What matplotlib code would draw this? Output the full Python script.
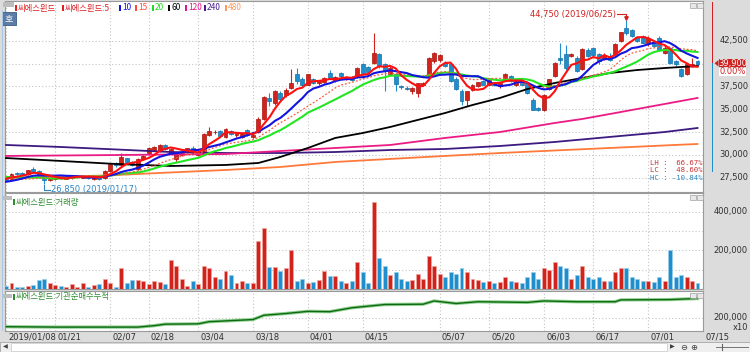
import numpy as np
import pandas as pd
import matplotlib
matplotlib.use('Agg')
import matplotlib.pyplot as plt
from matplotlib.patches import Rectangle, Polygon
from matplotlib.transforms import blended_transform_factory

KR = ['Noto Sans CJK KR', 'DejaVu Sans']

# daily candles, 2019/01/08 .. 2019/07/12
opens = [27300, 27250, 28000, 28000, 27850, 28400, 28250, 27650, 27200, 27300,
         27600, 27400, 27450, 27600, 27500, 27700, 27300, 27550, 27450, 28200,
         29100, 28900, 29600, 29200, 28400, 29500, 30150, 30500, 30450, 31050,
         30300, 29550, 30000, 30300, 30800, 29950, 30050, 32200, 32450, 32600,
         31950, 32600, 32150, 31900, 32700, 31900, 32500, 33950, 36250, 35650,
         36800, 36500, 37300, 38850, 38300, 37700, 38300, 37900, 37950, 38950,
         38150, 38950, 38300, 38450, 38500, 39950, 39600, 40050, 41000, 39950,
         38850, 38850, 37500, 37300, 36950, 36750, 37700, 38600, 40300, 40400,
         40050, 39950, 38300, 36950, 36000, 37150, 37500, 38050, 37700, 37800,
         37500, 38250, 38600, 37650, 38050, 37850, 36050, 35100, 34950, 37250,
         38600, 40650, 41050, 40850, 40600, 39400, 41500, 41650, 41000, 40550,
         40800, 41050, 42500, 43850, 43700, 42900, 43000, 42300, 42200, 42800,
         41200, 41700, 40300, 39400, 38900, 39850, 40300]
highs = [27450, 28050, 28150, 28100, 28350, 28650, 28350, 27750, 27450, 27650,
         27700, 27650, 27800, 27800, 27800, 27750, 27600, 27650, 28350, 29050,
         29250, 30200, 29700, 29300, 29600, 30000, 30900, 31000, 31200, 31150,
         30800, 30300, 30350, 30800, 30950, 30200, 32400, 33100, 32700, 32700,
         32900, 32700, 32450, 32400, 32800, 32300, 34100, 36400, 36800, 37100,
         37000, 37300, 39400, 39550, 38500, 38900, 38400, 38200, 38500, 39300,
         38600, 39100, 38600, 38600, 39600, 40100, 39700, 43300, 41200, 40100,
         39700, 39000, 37650, 37500, 37400, 37900, 38000, 40700, 41300, 41000,
         40300, 40100, 38500, 37200, 37000, 37800, 38000, 38200, 38400, 37900,
         37900, 38950, 38700, 38300, 38200, 38000, 36200, 35250, 36700, 38350,
         40200, 42300, 42000, 41200, 40800, 41700, 41700, 41800, 41100, 41100,
         41200, 42300, 43500, 44750, 43800, 43000, 43100, 43000, 42400, 43050,
         41900, 41800, 40400, 39500, 40100, 40600, 40400]
lows = [27100, 27150, 27800, 27850, 27800, 28050, 27650, 26850, 27100, 27250,
        27350, 27300, 27400, 27500, 27450, 27400, 27200, 27200, 27400, 28100,
        28700, 28800, 29150, 28800, 28300, 29400, 30050, 30400, 30350, 30550,
        30100, 29200, 29900, 30200, 30050, 29850, 30000, 32100, 32300, 32000,
        31850, 32150, 32000, 31800, 32100, 31800, 32400, 33800, 35400, 35500,
        35900, 36300, 37200, 37800, 37500, 37600, 37800, 37700, 37850, 38300,
        38000, 38500, 38200, 38100, 38400, 38900, 38900, 39900, 39500, 36950,
        38700, 36950, 37200, 37100, 36700, 36350, 37500, 38500, 40100, 40200,
        39600, 38000, 37100, 35500, 35300, 37000, 37400, 37600, 37600, 37500,
        37300, 38200, 37950, 37500, 37600, 36650, 34900, 34800, 34850, 37100,
        38500, 39900, 39300, 40700, 39100, 39300, 40700, 40800, 39900, 40400,
        40300, 40900, 42400, 43100, 42900, 42400, 42200, 41900, 41800, 41400,
        41000, 39900, 39700, 38500, 38700, 39600, 39700]
closes = [27200, 27950, 27900, 27950, 28300, 28100, 27700, 27200, 27350, 27550,
          27450, 27550, 27700, 27700, 27650, 27450, 27500, 27350, 28250, 28950,
          28850, 29750, 29250, 28850, 29500, 29900, 30800, 30850, 31100, 30650,
          30650, 30200, 30150, 30700, 30150, 30050, 32300, 32600, 32550, 32100,
          32800, 32250, 32350, 32300, 32200, 32200, 33950, 36300, 35900, 36950,
          36100, 37100, 37850, 38050, 37700, 38800, 37900, 38050, 38400, 38400,
          38500, 38600, 38500, 38200, 39500, 39000, 39100, 41150, 39750, 39200,
          39500, 37750, 37400, 37250, 37300, 37850, 37900, 40600, 41150, 40900,
          39750, 38100, 37200, 35850, 36950, 37700, 37950, 37700, 38250, 37700,
          37850, 38850, 38050, 38250, 37700, 36750, 34950, 34950, 36600, 38300,
          40050, 40400, 39500, 41000, 39200, 41600, 40850, 40900, 40300, 40950,
          40400, 42150, 43400, 43300, 43000, 42500, 42300, 42750, 41900, 41500,
          41700, 40050, 39900, 38600, 39950, 39900, 39900]
volumes = [14000, 31000, 12000, 12000, 17000, 21000, 48000, 53000, 29000, 22000,
           17000, 9000, 26000, 9000, 29000, 12000, 22000, 26000, 53000, 29000,
           12000, 110000, 29000, 47000, 48000, 40000, 26000, 43000, 36000, 26000,
           152000, 117000, 53000, 17000, 40000, 26000, 121000, 110000, 62000, 53000,
           95000, 74000, 33000, 43000, 33000, 33000, 247000, 316000, 114000, 114000,
           91000, 110000, 200000, 43000, 53000, 33000, 36000, 47000, 95000, 69000,
           69000, 43000, 29000, 43000, 141000, 86000, 33000, 451000, 160000, 120000,
           70000, 90000, 50000, 40000, 45000, 80000, 50000, 170000, 120000, 80000,
           60000, 90000, 80000, 110000, 90000, 50000, 45000, 35000, 40000, 30000,
           35000, 60000, 40000, 35000, 30000, 60000, 90000, 50000, 110000, 100000,
           140000, 120000, 110000, 50000, 70000, 120000, 60000, 50000, 60000, 40000,
           40000, 90000, 110000, 110000, 60000, 50000, 40000, 40000, 35000, 60000,
           40000, 200000, 60000, 70000, 60000, 40000, 30000]
# closes before 01/08, only to warm up the short moving averages
pre_close = [28600, 28400, 28300, 28100, 28200, 27900, 28000, 28100, 27900, 27700,
             27000, 26700, 26500, 26600, 26800, 27200, 27500, 27400, 27600]

# long moving averages at a few bars
ma60_idx = [0, 10, 20, 30, 40, 46, 50, 55, 60, 65, 70, 75, 80, 85, 90, 95, 100, 105, 110, 115, 120, 126]
ma60_val = [29650, 29330, 29000, 28780, 28890, 29110, 29770, 30750, 31850, 32390, 33050,
            33820, 34580, 35460, 36230, 37210, 37870, 38420, 38960, 39290, 39510, 39730]
ma120_idx = [0, 20, 40, 50, 60, 70, 80, 90, 100, 105, 110, 115, 120, 126]
ma120_val = [29880, 29980, 30090, 30420, 30750, 31080, 31850, 32500, 33490, 33930, 34470, 35020, 35570, 36230]
ma240_idx = [0, 10, 20, 30, 40, 50, 60, 70, 80, 90, 100, 110, 120, 126]
ma240_val = [31080, 30860, 30590, 30310, 30200, 30200, 30310, 30530, 30640, 30970, 31410, 31960, 32500, 32940]
ma480_idx = [0, 10, 20, 30, 40, 50, 60, 70, 80, 90, 100, 110, 120, 126]
ma480_val = [27470, 27580, 27790, 28070, 28340, 28670, 29220, 29550, 29880, 30200, 30480, 30750, 31030, 31190]

# institutional net buying, cumulative (x10)
inst_idx = [0, 9, 24, 27, 29, 35, 37, 45, 47, 51, 55, 59, 63, 69, 76, 78, 82, 86, 95, 98, 104, 111, 112, 121, 126]
inst_val = [66000, 60000, 60000, 82000, 105000, 110000, 143000, 176000, 242000, 269000,
            302000, 297000, 357000, 407000, 412000, 462000, 423000, 450000, 440000, 462000,
            450000, 450000, 478000, 483000, 500000]

tick_idx = [0, 9, 19, 26, 35, 45, 55, 65, 79, 88, 98, 107, 117, 127]
tick_lab = ['2019/01/08', '01/21', '02/07', '02/18', '03/04', '03/18', '04/01',
            '04/15', '05/07', '05/20', '06/03', '06/17', '07/01', '07/15']
price_ticks = [27500, 30000, 32500, 35000, 37500, 40000, 42500]
vol_ticks = [100000, 200000, 300000, 400000]

RED = '#d2221c'
BLUE = '#1e8fcc'

fig = plt.figure(figsize=(7.5, 3.52), dpi=100)
fig.patch.set_facecolor('#dcdcdc')


def fx(x):
    return x / 750


def fy(y):
    return 1 - y / 352


def rect(x0, y0, x1, y1, **kw):
    fig.add_artist(Rectangle((fx(x0), fy(y1)), (x1 - x0) / 750, (y1 - y0) / 352,
                             transform=fig.transFigure, **kw))


def panel(y0, y1):
    ax = fig.add_axes([fx(5), fy(y1), fx(703) - fx(5), (y1 - y0) / 352])
    ax.set_facecolor('white')
    ax.set_xlim(-0.18, 126.96)
    ax.set_xticks(tick_idx)
    ax.tick_params(length=0, labelbottom=False, labelleft=False)
    ax.grid(True, axis='x', color='#c4c4c4', lw=0.8, ls=(0, (1, 2)))
    for s in ax.spines.values():
        s.set_color('#9a9a9a')
        s.set_linewidth(0.8)
    return ax


x = np.arange(len(closes))
o = np.array(opens)
c = np.array(closes)
up = c >= o
cols = np.where(up, RED, BLUE)
edges = np.where(up, '#a81410', '#1670a8')

# ---- price panel ----
ax = panel(1, 192)
ax.set_ylim(25930, 46850)
ax.set_yticks(price_ticks)
ax.grid(True, axis='y', color='#c4c4c4', lw=0.8, ls=(0, (1, 2)))

ax.vlines(x, lows, highs, colors=cols, lw=0.8, zorder=2)
ax.bar(x, np.maximum(np.abs(c - o), 90), bottom=np.minimum(o, c), width=0.72,
       color=cols, edgecolor=edges, lw=0.5, zorder=3)

ax.plot(ma480_idx, ma480_val, color='#ff7a3a', lw=1.3, zorder=4)
ax.plot(ma240_idx, ma240_val, color='#3c1a80', lw=1.3, zorder=4)
ax.plot(ma120_idx, ma120_val, color='#ec1a84', lw=1.3, zorder=4)
ax.plot(ma60_idx, ma60_val, color='black', lw=1.3, zorder=4)
allc = pd.Series(pre_close + closes, dtype=float)
n0 = len(pre_close)
for win, color, lw, ls in [(20, '#22e622', 1.5, '-'), (15, '#ff5a3c', 0.9, (0, (1.5, 1.5))),
                           (10, '#1414e0', 1.5, '-'), (5, '#ff1010', 1.5, '-')]:
    ma = allc.rolling(win).mean().iloc[n0:].to_numpy()
    ax.plot(x, ma, color=color, lw=lw, ls=ls, zorder=5)

# high / low marks
ax.plot([111.3, 113, 113], [45420, 45420, 44900], color='#d02020', lw=0.8, zorder=6)
ax.plot([113], [44950], marker='v', ms=2.5, color='#d02020', zorder=6)
ax.text(111.1, 45420, '44,750 (2019/06/25)', color='#d02020', fontsize=6,
        ha='right', va='center', zorder=6)
ax.plot([7, 7, 8.0], [26750, 26200, 26200], color='#2a84c4', lw=0.8, zorder=6)
ax.text(8.2, 26200, '26,850 (2019/01/17)', color='#2a84c4', fontsize=6,
        ha='left', va='center', zorder=6)

trans = blended_transform_factory(fig.transFigure, ax.transData)
for p in price_ticks:
    if p != 40000:
        ax.text(fx(748), p, f'{p:,}', transform=trans, ha='right', va='center',
                fontsize=6, color='#303030')

# ---- volume panel ----
ax2 = panel(193, 289)
ax2.set_ylim(0, 497000)
ax2.set_yticks(vol_ticks)
ax2.grid(True, axis='y', color='#c4c4c4', lw=0.8, ls=(0, (1, 2)))
ax2.bar(x, volumes, width=0.72, color=cols,
        edgecolor=np.where(up, '#f0a8a0', '#9cd0ec'), lw=0.5, zorder=3)
trans2 = blended_transform_factory(fig.transFigure, ax2.transData)
for v in [200000, 400000]:
    ax2.text(fx(748), v, f'{v:,}', transform=trans2, ha='right', va='center',
             fontsize=6, color='#303030')

# ---- institutional panel ----
ax3 = panel(291, 331)
ax3.set_ylim(0, 615000)
ax3.set_yticks([200000])
ax3.grid(True, axis='y', color='#c4c4c4', lw=0.8, ls=(0, (1, 2)))
ax3.plot(inst_idx, inst_val, color='#8fd08f', lw=2.4, zorder=3)
ax3.plot(inst_idx, inst_val, color='#0e6a12', lw=1.0, zorder=4)
trans3 = blended_transform_factory(fig.transFigure, ax3.transData)
ax3.text(fx(748), 200000, '200,000', transform=trans3, ha='right', va='center',
         fontsize=6, color='#303030')
fig.text(fx(748), fy(327.5), 'x10', ha='right', va='center', fontsize=6, color='#303030')

# ---- date row ----
for i, lab in zip(tick_idx, tick_lab):
    xp = 6 + 5.49 * i + 2
    fig.text(fx(xp), fy(337), lab, ha='left', va='center', fontsize=6, color='#303030')

# ---- legends and widgets ----
rect(3, 2, 14, 7, facecolor='#bdbdbd', edgecolor='none')
rect(2, 12, 16, 25, facecolor='#5b7ca6', edgecolor='#3c5c86', lw=0.6)
fig.text(fx(9), fy(18.5), '호', family=KR, fontsize=6.5, color='white', ha='center', va='center')
legend = [(15, '씨에스윈드', '#e02020'), (62, '씨에스윈드:5', '#e02020'), (119, '10', '#1414e0'),
          (135, '15', '#ff4a3a'), (152, '20', '#22dd22'), (168, '60', 'black'),
          (185, '120', '#e4148a'), (204, '240', '#4a2090'), (225, '480', '#ff9a5a')]
for xm, lab, colr in legend:
    rect(xm, 5, xm + 2, 11, facecolor=colr, edgecolor='none')
    fig.text(fx(xm + 3), fy(8), lab, family=KR, fontsize=6, color=colr, ha='left', va='center')

rect(3, 196, 12, 200, facecolor='#bdbdbd', edgecolor='none')
rect(13, 199, 15, 205, facecolor='#2e8b2e', edgecolor='none')
fig.text(fx(16), fy(202), '씨에스윈드:거래량', family=KR, fontsize=6, color='#2e8b2e', va='center')
rect(3, 294, 12, 298, facecolor='#bdbdbd', edgecolor='none')
rect(13, 294, 15, 300, facecolor='#2e8b2e', edgecolor='none')
fig.text(fx(16), fy(297), '씨에스윈드:기관순매수누적', family=KR, fontsize=6, color='#2e8b2e', va='center')

for yy in [3, 195, 293]:
    rect(690, yy, 695.5, yy + 5, facecolor='#e8e8e8', edgecolor='#a0a0a0', lw=0.5)
    rect(697, yy, 702.5, yy + 5, facecolor='#e8e8e8', edgecolor='#a0a0a0', lw=0.5)

fig.text(fx(702), fy(163), 'LH :  66.67%', family='DejaVu Sans Mono', fontsize=5.2,
         color='#c83030', ha='right', va='center')
fig.text(fx(702), fy(170.5), 'LC :  48.60%', family='DejaVu Sans Mono', fontsize=5.2,
         color='#c83030', ha='right', va='center')
fig.text(fx(702), fy(178), 'HC : -10.84%', family='DejaVu Sans Mono', fontsize=5.2,
         color='#2a84c4', ha='right', va='center')

# current price marker on the right scale
rect(711.5, 2, 713, 63, facecolor='#d02020', edgecolor='none')
rect(711.5, 63, 713, 172, facecolor='#1e8fcc', edgecolor='none')
fig.add_artist(Polygon([(fx(714.5), fy(63.3)), (fx(718.5), fy(60)), (fx(718.5), fy(66.6))],
                       closed=True, transform=fig.transFigure, facecolor='#d02020', edgecolor='none'))
rect(719, 59.5, 746, 67, facecolor='#d02020', edgecolor='none')
fig.text(fx(732.5), fy(63.3), '39,900', fontsize=6, color='white', ha='center', va='center')
rect(719, 67.5, 746, 76, facecolor='white', edgecolor='none')
fig.text(fx(732.5), fy(72), '0.00%', fontsize=6, color='#d02020', ha='center', va='center')

rect(2, 10, 3, 331, facecolor='#a9c6e4', edgecolor='none')

# scrollbar
rect(0, 342, 750, 352, facecolor='#efefef', edgecolor='#a8a8a8', lw=0.6)
rect(11, 343, 667, 351, facecolor='white', edgecolor='#c8c8c8', lw=0.5)
fig.text(fx(5), fy(347), '◀', fontsize=4.5, color='#404040', ha='center', va='center')
fig.text(fx(672), fy(347), '▶', fontsize=4.5, color='#404040', ha='center', va='center')
fig.text(fx(684), fy(347), '⊖', fontsize=6, color='#404040', ha='center', va='center')
fig.text(fx(694), fy(347), '⊕', fontsize=6, color='#404040', ha='center', va='center')
fig.add_artist(plt.Line2D([fx(716), fx(748)], [fy(347), fy(347)], transform=fig.transFigure,
                          color='#606060', lw=0.6))
fig.add_artist(plt.Line2D([fx(722), fx(722)], [fy(344), fy(350)], transform=fig.transFigure,
                          color='#606060', lw=0.8))

fig.savefig('out.png', dpi=100, facecolor=fig.get_facecolor())
